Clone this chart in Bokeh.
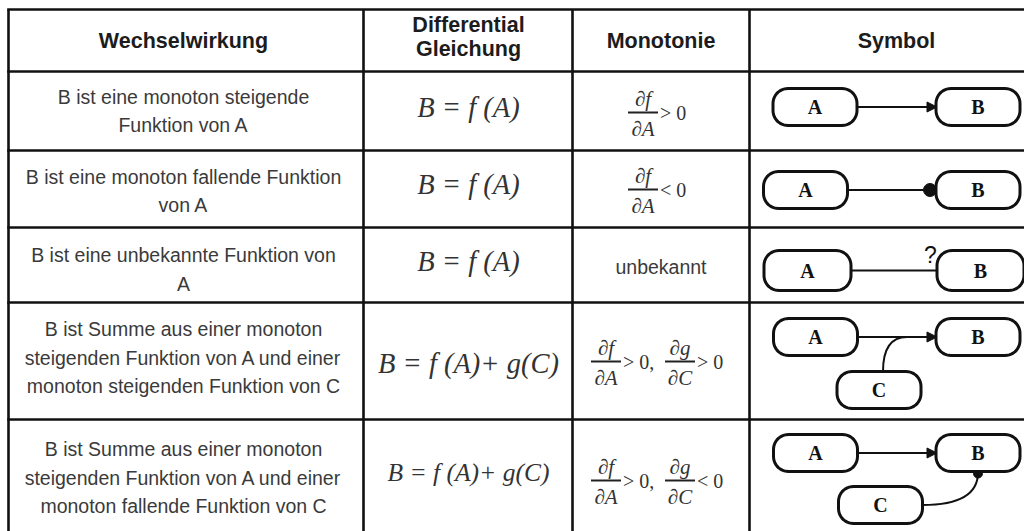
import numpy as np
from bokeh.plotting import figure
from bokeh.models import Range1d, Arrow, NormalHead
from bokeh.core.properties import value
from bokeh.embed import file_html
from bokeh.resources import INLINE

# ---------------- table content ----------------
header_lines = [["Wechselwirkung"], ["Differential", "Gleichung"], ["Monotonie"], ["Symbol"]]
descriptions = [
    ["B ist eine monoton steigende", "Funktion von A"],
    ["B ist eine monoton fallende Funktion", "von A"],
    ["B ist eine unbekannte Funktion von", "A"],
    ["B ist Summe aus einer monoton", "steigenden Funktion von A und einer",
     "monoton steigenden Funktion von C"],
    ["B ist Summe aus einer monoton", "steigenden Funktion von A und einer",
     "monoton fallende Funktion von C"],
]
equations = ["B = f (A)", "B = f (A)", "B = f (A)", "B = f (A)+ g(C)", "B = f (A)+ g(C)"]
mono_numerators = [["∂f"], ["∂f"], [], ["∂f", "∂g"], ["∂f", "∂g"]]
mono_denominators = [["∂A"], ["∂A"], [], ["∂A", "∂C"], ["∂A", "∂C"]]
mono_relations = [["> 0"], ["< 0"], [], ["> 0,", "> 0"], ["> 0,", "< 0"]]
mono_words = ["", "", "unbekannt", "", ""]
symbol_nodes = [["A", "B"], ["A", "B"], ["A", "B"], ["A", "B", "C"], ["A", "B", "C"]]
symbol_links = [
    [("A", "B", "+")],
    [("A", "B", "-")],
    [("A", "B", "?")],
    [("A", "B", "+"), ("C", "B", "+")],
    [("A", "B", "+"), ("C", "B", "-")],
]

# ---------------- layout (page pixels) ----------------
W, H = 1024, 531
col_edges = [8, 363, 572, 749, 1060]
row_edges = [9, 71, 150, 227, 302, 419, 560]
col_centers = [183, 468, 660.5, 896]
header_centers = {1: [40], 2: [24.5, 48]}
desc_center_y = [110.5, 190.5, 269, 357, 477]
LINE_GAP = 28.7
eq_centers = [106.5, 183.5, 260.5, 362.5, 471.5]
eq_sizes = ["28.5px", "28.5px", "28.5px", "28.5px", "25.5px"]
frac_bar_y = [112, 189, None, 361, 480]
word_centers = [None, None, 266, None, None]
node_pos = [
    {"A": (814.5, 106.5), "B": (977.5, 106.5)},
    {"A": (805, 189.5), "B": (977.5, 189.5)},
    {"A": (807, 270), "B": (980, 270)},
    {"A": (815, 336.5), "B": (977.5, 336.5), "C": (878.5, 389.5)},
    {"A": (815, 452.5), "B": (977.5, 452.5), "C": (880, 504.5)},
]
NODE_W, NODE_H, NODE_R = 84, 37, 15

SANS = value("Liberation Sans")
SERIF = value("Liberation Serif")

p = figure(width=W, height=H, x_range=Range1d(0, W), y_range=Range1d(H, 0),
           output_backend="svg", toolbar_location=None, min_border=0,
           x_axis_type=None, y_axis_type=None)
p.outline_line_color = None
p.grid.visible = False
p.background_fill_color = "white"
p.border_fill_color = "white"

# ---------------- grid lines ----------------
n_h = len(row_edges) - 1
p.segment(x0=[col_edges[0] - 1.3] * n_h, y0=row_edges[:-1], x1=[col_edges[-1]] * n_h,
          y1=row_edges[:-1], line_color="#111111", line_width=2.6)
vx = col_edges[:-1]
p.segment(x0=vx, y0=[row_edges[0]] * len(vx), x1=vx, y1=[row_edges[-1]] * len(vx),
          line_color="#111111", line_width=2.6)

# ---------------- header ----------------
hxs, hys, hts = [], [], []
for c, lines in enumerate(header_lines):
    for ln, yc in zip(lines, header_centers[len(lines)]):
        hxs.append(col_centers[c]); hys.append(yc); hts.append(ln)
p.text(x=hxs, y=hys, text=hts, text_font=SANS, text_font_style="bold",
       text_font_size="21.5px", text_align="center", text_baseline="middle",
       text_color="#1c1c1c")

# ---------------- descriptions ----------------
dxs, dys, dts = [], [], []
for r, lines in enumerate(descriptions):
    n = len(lines)
    for i, ln in enumerate(lines):
        dxs.append(col_centers[0])
        dys.append(desc_center_y[r] + (i - (n - 1) / 2) * LINE_GAP)
        dts.append(ln)
p.text(x=dxs, y=dys, text=dts, text_font=SANS, text_font_size="19.5px",
       text_align="center", text_baseline="middle", text_color="#3a3a3a")

# ---------------- equations ----------------
for r, eq in enumerate(equations):
    p.text(x=[col_centers[1]], y=[eq_centers[r]], text=[eq], text_font=SERIF,
           text_font_style="italic", text_font_size=eq_sizes[r], text_align="center",
           text_baseline="middle", text_color="#333333")

# ---------------- monotonie ----------------
BAR_W, GAP = 30, 2
for r in range(len(equations)):
    if mono_words[r]:
        p.text(x=[col_centers[2]], y=[word_centers[r]], text=[mono_words[r]],
               text_font=SANS, text_font_size="19.5px", text_align="center",
               text_baseline="middle", text_color="#3a3a3a")
        continue
    rel_w = [42 if rel.endswith(",") else 34 for rel in mono_relations[r]]
    total = sum(BAR_W + GAP + w for w in rel_w)
    x = col_centers[2] - total / 2
    by = frac_bar_y[r]
    for num, den, rel, w in zip(mono_numerators[r], mono_denominators[r], mono_relations[r], rel_w):
        p.segment(x0=[x], y0=[by], x1=[x + BAR_W], y1=[by], line_color="#222222", line_width=2)
        p.text(x=[x + BAR_W / 2], y=[by - 14], text=[num], text_font=SERIF,
               text_font_style="italic", text_font_size="21px", text_align="center",
               text_baseline="middle", text_color="#333333")
        p.text(x=[x + BAR_W / 2], y=[by + 16], text=[den], text_font=SERIF,
               text_font_style="italic", text_font_size="21px", text_align="center",
               text_baseline="middle", text_color="#333333")
        p.text(x=[x + BAR_W + GAP], y=[by], text=[rel], text_font=SERIF,
               text_font_size="20px", text_align="left", text_baseline="middle",
               text_color="#333333")
        x += BAR_W + GAP + w

# ---------------- symbols ----------------
def rounded_rect(cx, cy, w, h, rad, n=12):
    xs, ys = [], []
    for ccx, ccy, a0 in [(cx + w / 2 - rad, cy + h / 2 - rad, 0),
                         (cx - w / 2 + rad, cy + h / 2 - rad, 90),
                         (cx - w / 2 + rad, cy - h / 2 + rad, 180),
                         (cx + w / 2 - rad, cy - h / 2 + rad, 270)]:
        t = np.radians(np.linspace(a0, a0 + 90, n))
        xs += list(ccx + rad * np.cos(t))
        ys += list(ccy + rad * np.sin(t))
    return xs, ys

LINK_W = 2
for r, links in enumerate(symbol_links):
    pos = node_pos[r]
    for src, dst, sign in links:
        sx, sy = pos[src]
        tx, ty = pos[dst]
        if src == "A":
            x0, x1 = sx + NODE_W / 2, tx - NODE_W / 2 + 1
            if sign == "+":
                p.add_layout(Arrow(end=NormalHead(size=10, fill_color="#111111", line_color="#111111",
                                                  line_width=1),
                                   x_start=x0, y_start=sy, x_end=x1, y_end=sy,
                                   line_color="#111111", line_width=LINK_W))
            else:
                p.segment(x0=[x0], y0=[sy], x1=[x1], y1=[sy], line_color="#111111", line_width=LINK_W)
            if sign == "-":
                p.scatter(x=[x1 - 7], y=[sy], size=13, marker="circle", fill_color="#111111",
                          line_color="#111111")
            if sign == "?":
                p.text(x=[x1 - 9], y=[sy - 16], text=["?"], text_font=SANS,
                       text_font_size="23px", text_align="center", text_baseline="middle",
                       text_color="#111111")
        else:
            if sign == "+":
                line_y = pos["A"][1]
                sx0 = sx + 4
                p.quadratic(x0=[sx0], y0=[sy - NODE_H / 2], x1=[sx0 + 24], y1=[line_y],
                            cx=[sx0], cy=[line_y], line_color="#111111", line_width=LINK_W)
            else:
                ey = ty + NODE_H / 2 + 1
                p.quadratic(x0=[sx + NODE_W / 2], y0=[sy], x1=[tx], y1=[ey],
                            cx=[tx], cy=[sy], line_color="#111111", line_width=LINK_W)
                p.scatter(x=[tx], y=[ey + 1], size=9, marker="circle", fill_color="#111111",
                          line_color="#111111")

    bxs, bys, lx, ly, lt = [], [], [], [], []
    for lab in symbol_nodes[r]:
        cx, cy = pos[lab]
        h = NODE_H + (3 if r == 2 else 0)
        w = NODE_W + (3 if r == 2 else 0)
        xs, ys = rounded_rect(cx, cy, w, h, NODE_R)
        bxs.append(xs); bys.append(ys)
        lx.append(cx); ly.append(cy); lt.append(lab)
    p.patches(xs=bxs, ys=bys, fill_color="white", line_color="#111111", line_width=3)
    p.text(x=lx, y=ly, text=lt, text_font=SERIF, text_font_style="bold", text_font_size="20px",
           text_align="center", text_baseline="middle", text_color="#111111")

open("out.html", "w").write(file_html(p, INLINE))
